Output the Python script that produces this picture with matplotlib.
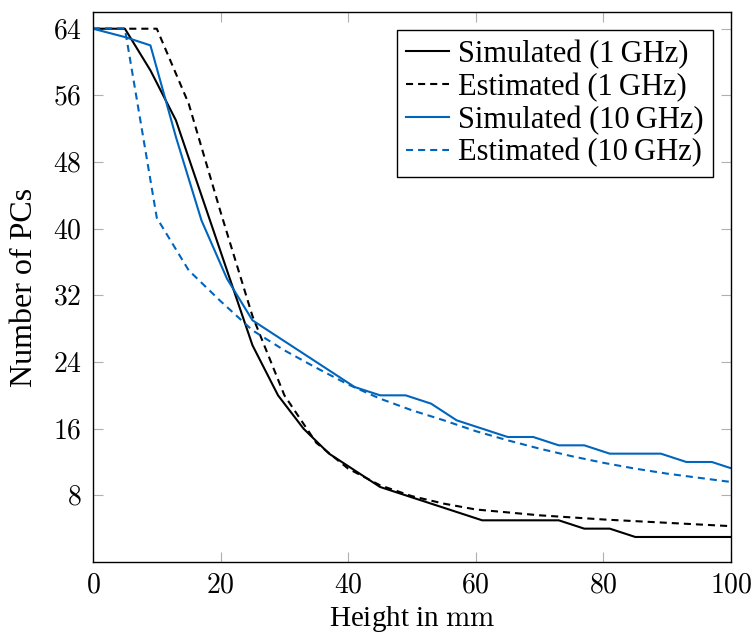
import matplotlib
matplotlib.use('Agg')
import matplotlib.pyplot as plt
from matplotlib.ticker import FuncFormatter

# simulated curves, sampled every 4 mm
sim_height = [0, 5, 9, 13, 17, 21, 25, 29, 33, 37, 41, 45, 49, 53, 57, 61,
              65, 69, 73, 77, 81, 85, 89, 93, 97, 101]
sim_1ghz = [64, 64, 59, 53, 44, 35, 26, 20, 16, 13, 11, 9, 8, 7, 6, 5,
            5, 5, 5, 4, 4, 3, 3, 3, 3, 3]
sim_10ghz = [64, 63, 62, 51, 41, 34, 29, 27, 25, 23, 21, 20, 20, 19, 17, 16,
             15, 15, 14, 14, 13, 13, 13, 12, 12, 11]

# estimated curves
est_height_1 = [0, 10, 15, 20, 25, 30, 35, 40, 45, 50, 55, 60, 70, 80, 90, 100]
est_1ghz = [64, 64, 55, 42, 29.5, 20, 14.3, 11.2, 9.2, 7.9, 7.0, 6.3, 5.6, 5.1, 4.7, 4.3]
est_height_10 = [0, 5, 10, 15, 20, 25, 30, 35, 40, 45, 50, 55, 60, 65, 70, 75,
                 80, 85, 90, 95, 100]
est_10ghz = [64, 64, 41.3, 35, 31.3, 27.8, 25.4, 23.3, 21.3, 19.6, 18.2, 17.0,
             15.7, 14.6, 13.6, 12.7, 11.9, 11.2, 10.6, 10.1, 9.6]

labels = ['Simulated (1\u2009GHz)', 'Estimated (1\u2009GHz)',
          'Simulated (10\u2009GHz)', 'Estimated (10\u2009GHz)']
x_ticks = [0, 20, 40, 60, 80, 100]
y_ticks = [8, 16, 24, 32, 40, 48, 56, 64]

blue = '#0065bd'

plt.rcParams['font.family'] = ['Liberation Serif', 'DejaVu Serif']
plt.rcParams['mathtext.fontset'] = 'cm'

fig = plt.figure(figsize=(7.53, 6.34), dpi=100)
ax = fig.add_axes([0.1235, 0.1136, 0.8473, 0.8674])

lw = 1.5
dash = (3.4, 2.4)
ax.plot(sim_height, sim_1ghz, color='black', lw=lw, label=labels[0])
ax.plot(est_height_1, est_1ghz, color='black', lw=lw, dashes=dash, label=labels[1])
ax.plot(sim_height, sim_10ghz, color=blue, lw=lw, label=labels[2])
ax.plot(est_height_10, est_10ghz, color=blue, lw=lw, dashes=dash, label=labels[3])

ax.set_xlim(0, 100)
ax.set_ylim(0, 66)
ax.set_xticks(x_ticks)
ax.set_yticks(y_ticks)
ax.xaxis.set_major_formatter(FuncFormatter(lambda v, p: '$%d$' % v))
ax.yaxis.set_major_formatter(FuncFormatter(lambda v, p: '$%d$' % v))
ax.tick_params(direction='in', length=7.5, width=0.8, color='#b0b0b0',
               top=True, right=True, labelsize=20, pad=8)
for s in ax.spines.values():
    s.set_linewidth(1.0)

ax.set_xlabel('Height in $\\mathrm{mm}$', fontsize=21, labelpad=4)
ax.set_ylabel('Number of PCs', fontsize=23, labelpad=10)

leg = ax.legend(loc='upper right', fontsize=22, fancybox=False, framealpha=1,
                edgecolor='black', handlelength=1.4, handletextpad=0.3,
                labelspacing=0.12, borderpad=0.3, borderaxespad=0.6)
leg.get_frame().set_linewidth(1.0)

fig.savefig('out.png', dpi=100)
